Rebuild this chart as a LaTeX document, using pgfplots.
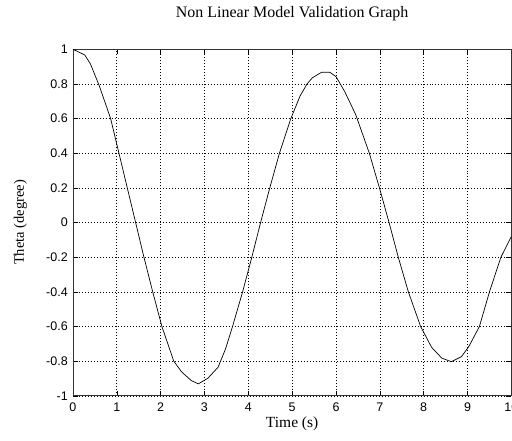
\documentclass[border=0pt]{standalone}
\usepackage{fontspec}
\setmainfont{Liberation Serif}
\newfontfamily\tickfont{Liberation Sans}
\usepackage{pgfplots}
\pgfplotsset{compat=1.18}

\begin{document}
\begin{tikzpicture}
\begin{axis}[
    scale only axis,
    width=439pt, height=347pt,
    xmin=0, xmax=10, ymin=-1, ymax=1,
    xtick={0,1,...,10},
    ytick={-1,-0.8,-0.6,-0.4,-0.2,0,0.2,0.4,0.6,0.8,1},
    xticklabels={0,1,2,3,4,5,6,7,8,9,10},
    yticklabels={-1,-0.8,-0.6,-0.4,-0.2,0,0.2,0.4,0.6,0.8,1},
    ticklabel style={font=\tickfont\fontsize{12.5}{14}\selectfont, inner sep=0pt},
    xticklabel style={anchor=north, yshift=-7pt},
    yticklabel style={anchor=east, xshift=-5pt},
    tick align=inside,
    major tick length=5pt,
    tick style={black, line width=0.5pt},
    axis line style={black!80, line width=0.7pt},
    grid=major,
    major grid style={black, line width=0.6pt, dash pattern=on 0.6pt off 2.4pt},
    title={Non Linear Model Validation Graph},
    title style={font=\fontsize{16}{19}\selectfont, at={(axis description cs:0.5,1.0749)}, anchor=base, inner sep=0pt},
    xlabel={Time (s)},
    xlabel style={font=\fontsize{15.5}{18}\selectfont, at={(axis description cs:0.5,-0.0922)}, anchor=base, inner sep=0pt},
    ylabel={Theta (degree)},
    ylabel style={font=\fontsize{14.5}{17}\selectfont, at={(axis description cs:-0.1116,0.5)}, anchor=base, inner sep=0pt},
]
% simulated pendulum response
\addplot[black, line width=0.7pt] coordinates {
    (0,1.0) (0.27,0.967) (0.40,0.915) (0.60,0.79) (0.86,0.6) (1.05,0.4)
    (1.24,0.2) (1.43,0.0) (1.62,-0.2) (1.82,-0.4) (2.03,-0.6) (2.30,-0.8)
    (2.48,-0.862) (2.70,-0.912) (2.86,-0.931) (3.08,-0.898) (3.31,-0.835)
    (3.48,-0.73) (3.64,-0.6) (3.87,-0.4) (4.08,-0.2) (4.28,0.0) (4.49,0.2)
    (4.71,0.4) (4.97,0.6) (5.18,0.73) (5.34,0.8) (5.46,0.835) (5.67,0.867)
    (5.86,0.867) (6.0,0.842) (6.20,0.755) (6.45,0.622) (6.76,0.4) (6.99,0.2)
    (7.21,0.0) (7.42,-0.2) (7.65,-0.4) (7.93,-0.6) (8.18,-0.72) (8.41,-0.782)
    (8.63,-0.803) (8.86,-0.774) (9.03,-0.715) (9.27,-0.6) (9.50,-0.4)
    (9.76,-0.2) (10.0,-0.08)
};
\coordinate (ll) at (rel axis cs:0,0);
\coordinate (ur) at (rel axis cs:1,1);
\end{axis}
\pgfresetboundingbox
\path[use as bounding box] ([xshift=-73pt,yshift=-45pt]ll) rectangle ([xshift=0.6pt,yshift=49.3pt]ur);
\end{tikzpicture}
\end{document}
